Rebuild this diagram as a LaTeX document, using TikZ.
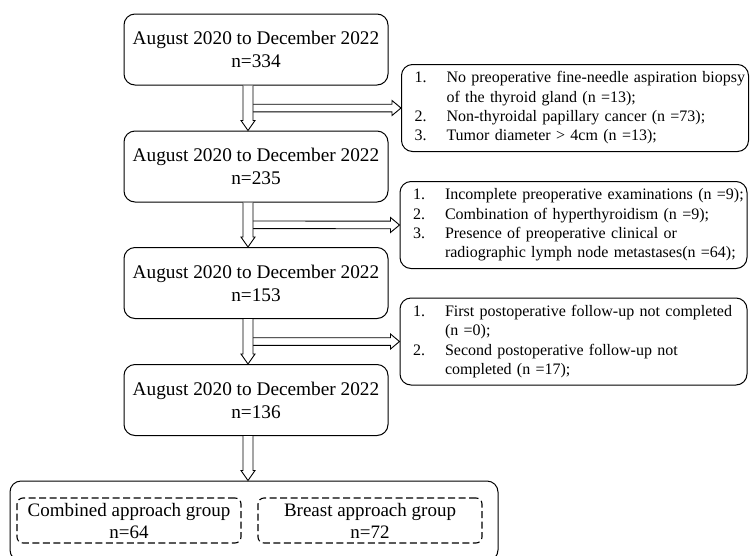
\documentclass[tikz,border=0pt]{standalone}
\usepackage{fontspec}
\setmainfont{Liberation Serif}
\usetikzlibrary{calc}

\begin{document}
\begin{tikzpicture}[x=1pt,y=-1pt,
    period/.style={draw, rounded corners=11pt, line width=1pt, minimum width=264pt, minimum height=71pt, align=center, font=\fontsize{19.3}{23}\selectfont},
    excl/.style={draw, rounded corners=11pt, line width=1pt, text width=337pt, inner xsep=5pt, minimum height=87pt, align=left, font=\fontsize{16}{19.3}\selectfont},
    grp/.style={draw, dash pattern=on 7pt off 3.5pt, rounded corners=6pt, line width=1.1pt, minimum width=224pt, minimum height=45pt, align=center, font=\fontsize{19}{22}\selectfont},
    pool/.style={draw, rounded corners=11pt, line width=1pt, minimum width=488pt, minimum height=80pt},
    fat/.style n args={3}{draw, fill=white, line width=0.9pt, line join=miter, to path={
      ($(\tikztostart)!#1!90:(\tikztotarget)$)
      -- ($(\tikztotarget)!#3!(\tikztostart) + (\tikztostart)!#1!90:(\tikztotarget) - (\tikztostart)$)
      -- ($(\tikztotarget)!#3!(\tikztostart) + (\tikztostart)!#2!90:(\tikztotarget) - (\tikztostart)$)
      -- (\tikztotarget)
      -- ($(\tikztotarget)!#3!(\tikztostart) + (\tikztostart)!#2!-90:(\tikztotarget) - (\tikztostart)$)
      -- ($(\tikztotarget)!#3!(\tikztostart) + (\tikztostart)!#1!-90:(\tikztotarget) - (\tikztostart)$)
      -- ($(\tikztostart)!#1!-90:(\tikztotarget)$)}},
    downarr/.style={fat={5pt}{7pt}{10pt}},
    sidearr/.style={fat={3.8pt}{7.5pt}{9pt}}
]
\clip (0,0) rectangle (750,555);

% Study periods
\node[period] (p1) at (256,49.5) {August 2020 to December 2022\\n=334};
\node[period] (p2) at (256,166.5) {August 2020 to December 2022\\n=235};
\node[period] (p3) at (256,283) {August 2020 to December 2022\\n=153};
\node[period] (p4) at (256,400) {August 2020 to December 2022\\n=136};

% Exclusions
\node[excl] (e1) at (575,108) {\begin{tabular}{@{\hspace{8pt}}p{32pt}@{}l@{}}
1. & No preoperative fine-needle aspiration biopsy\\
   & of the thyroid gland (n =13);\\
2. & Non-thyroidal papillary cancer (n =73);\\
3. & Tumor diameter > 4cm (n =13);
\end{tabular}};
\node[excl] (e2) at (573.5,225) {\begin{tabular}{@{\hspace{8pt}}p{32pt}@{}l@{}}
1. & Incomplete preoperative examinations (n =9);\\
2. & Combination of hyperthyroidism (n =9);\\
3. & Presence of preoperative clinical or\\
   & radiographic lymph node metastases(n =64);
\end{tabular}};
\node[excl] (e3) at (573.5,341.5) {\begin{tabular}{@{\hspace{8pt}}p{32pt}@{}l@{}}
1. & First postoperative follow-up not completed\\
   & (n =0);\\
2. & Second postoperative follow-up not\\
   & completed (n =17);
\end{tabular}};

% Groups
\node[pool] (all) at (254,521) {};
\node[grp] (g1) at (129,520.5) {Combined approach group\\n=64};
\node[grp] (g2) at (370,520.5) {Breast approach group\\n=72};

% Arrow ends
\coordinate (v1) at ([xshift=-8pt]p1.south);
\coordinate (w1) at ([xshift=-8pt]p2.north);
\coordinate (v2) at ([xshift=-8pt]p2.south);
\coordinate (w2) at ([xshift=-8pt]p3.north);
\coordinate (v3) at ([xshift=-8pt]p3.south);
\coordinate (w3) at ([xshift=-8pt]p4.north);
\coordinate (v4) at ([xshift=-8pt]p4.south);
\coordinate (w4) at (v4 |- all.north);
\coordinate (h1) at ($(v1)!0.5!(w1)$);
\coordinate (h2) at ($(v2)!0.5!(w2)$);
\coordinate (h3) at ($(v3)!0.5!(w3)$);

% Arrows
\draw[sidearr] (h1) to (e1.west);
\draw[sidearr] (h2) to (e2.west);
\draw[sidearr] (h3) to (e3.west);
\draw[downarr] (v1) to (w1);
\draw[downarr] (v2) to (w2);
\draw[downarr] (v3) to (w3);
\draw[downarr] (v4) to (w4);

\end{tikzpicture}
\end{document}
